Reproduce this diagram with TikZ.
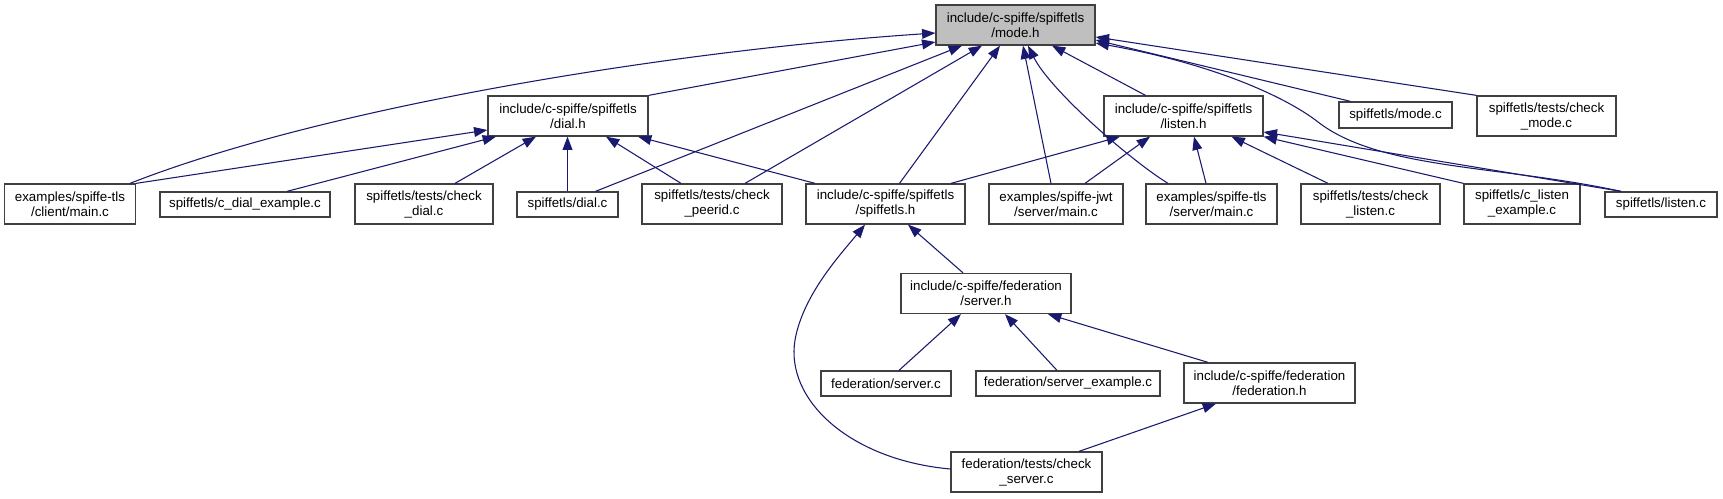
\documentclass[tikz,border=0pt]{standalone}
\usepackage{fontspec}
\setmainfont{Liberation Sans}
\usetikzlibrary{arrows.meta,calc}
\definecolor{edgeblue}{HTML}{191970}
\definecolor{boxborder}{HTML}{404040}
\definecolor{focusgray}{HTML}{BFBFBF}
\begin{document}
\begin{tikzpicture}[x=0.75pt,y=-0.75pt,
  box/.style={draw=boxborder, line width=0.95pt, fill=white, align=center, inner sep=0pt,
    font=\fontsize{10pt}{11.25pt}\selectfont, text=black},
  bx/.style 2 args={box, minimum width=#1*0.75pt, minimum height=#2*0.75pt},
  e/.style={draw=edgeblue, line width=0.8pt, -{Triangle[length=10pt,width=7.4pt,fill=edgeblue]}}]
\fill[white] (0,0) rectangle (1723,499);
\useasboundingbox (0,0) rectangle (1723,499);

% nodes
\node[bx={159}{40}, fill=focusgray] (modeh) at (1015.5,25) {include/c-spiffe/spiffetls\\/mode.h};
\node[bx={160}{40}] (dialh) at (568,116) {include/c-spiffe/spiffetls\\/dial.h};
\node[bx={159}{40}] (listenh) at (1183.5,116) {include/c-spiffe/spiffetls\\/listen.h};
\node[bx={113}{26}] (modec) at (1395.5,115) {spiffetls/mode.c};
\node[bx={139}{40}] (checkmode) at (1546.5,116) {spiffetls/tests/check\\\_mode.c};
\node[bx={131}{40}] (client) at (70,204) {examples/spiffe-tls\\/client/main.c};
\node[bx={170}{25}] (cdial) at (245,204.5) {spiffetls/c\_dial\_example.c};
\node[bx={138}{40}] (checkdial) at (424,204) {spiffetls/tests/check\\\_dial.c};
\node[bx={101}{25}] (dialc) at (567.5,204.5) {spiffetls/dial.c};
\node[bx={140}{40}] (peerid) at (712,204) {spiffetls/tests/check\\\_peerid.c};
\node[bx={159}{40}] (spiffetlsh) at (885.5,204) {include/c-spiffe/spiffetls\\/spiffetls.h};
\node[bx={134}{40}] (jwt) at (1056,204) {examples/spiffe-jwt\\/server/main.c};
\node[bx={131}{40}] (tlsserver) at (1211.5,204) {examples/spiffe-tls\\/server/main.c};
\node[bx={139}{40}] (checklisten) at (1370.5,204) {spiffetls/tests/check\\\_listen.c};
\node[bx={116}{40}] (clisten) at (1522,204) {spiffetls/c\_listen\\\_example.c};
\node[bx={112}{25}] (listenc) at (1661,204.5) {spiffetls/listen.c};
\node[bx={170}{40}] (serverh) at (986,293.5) {include/c-spiffe/federation\\/server.h};
\node[bx={130}{25}] (serverc) at (886,383.5) {federation/server.c};
\node[bx={184}{25}] (serverex) at (1068,383.5) {federation/server\_example.c};
\node[bx={171}{40}] (fedh) at (1269.5,383) {include/c-spiffe/federation\\/federation.h};
\node[bx={151}{40}] (checkserver) at (1026.5,472) {federation/tests/check\\\_server.c};

% edges into mode.h
\draw[e] ($(client.north)+(60,0)$) .. controls (330,105) and (680,50) .. ($(modeh.west)+(0,8)$);
\draw[e] (dialh.north east) -- ($(modeh.west)+(0,17)$);
\draw[e] ($(dialc.north)+(28,0)$) -- ($(modeh.south)+(-53.5,0)$);
\draw[e] ($(peerid.north)+(33,0)$) -- ($(modeh.south)+(-33.5,0)$);
\draw[e] ($(spiffetlsh.north)+(14,0)$) -- ($(modeh.south)+(-15.5,0)$);
\draw[e] ($(jwt.north)+(-5,0)$) -- ($(modeh.south)+(7.5,0)$);
\draw[e] ($(tlsserver.north)+(-43.5,0)$) .. controls (1130,160) and (1050,90) .. ($(modeh.south)+(12.5,0)$);
\draw[e] ($(listenh.north)+(-38,0)$) -- ($(modeh.south)+(36.5,0)$);
\draw[e] (checkmode.north west) -- ($(modeh.east)+(0,12)$);
\draw[e] ($(modec.north)+(-45,0)$) -- ($(modeh.east)+(0,15)$);
\draw[e] ($(listenc.north)+(-40,0)$) .. controls (1500,165) and (1380,170) .. (1318,122)
  .. controls (1290,100) and (1220,65) .. ($(modeh.east)+(0,18)$);

% edges into dial.h
\draw[e] (client.north east) -- ($(dialh.west)+(0,14)$);
\draw[e] ($(cdial.north)+(42,0)$) -- ($(dialh.south)+(-72,0)$);
\draw[e] ($(checkdial.north)+(31,0)$) -- ($(dialh.south)+(-32,0)$);
\draw[e] (dialc.north) -- (dialc.north |- dialh.south);
\draw[e] ($(peerid.north)+(-31,0)$) -- ($(dialh.south)+(38,0)$);
\draw[e] ($(spiffetlsh.north)+(-70.5,0)$) -- ($(dialh.south)+(70,0)$);

% edges into listen.h
\draw[e] ($(spiffetlsh.north)+(65.5,0)$) -- ($(listenh.south)+(-63.5,0)$);
\draw[e] ($(jwt.north)+(29,0)$) -- ($(listenh.south)+(-33.5,0)$);
\draw[e] ($(tlsserver.north)+(-5.5,0)$) -- ($(listenh.south)+(10.5,0)$);
\draw[e] ($(checklisten.north)+(-42.5,0)$) -- ($(listenh.south)+(48,0)$);
\draw[e] (clisten.north west) -- (listenh.south east);
\draw[e] ($(listenc.north)+(-40,0)$) -- ($(listenh.east)+(0,16)$);

% edges into spiffetls.h
\draw[e] ($(serverh.north)+(-23,0)$) -- ($(spiffetlsh.south)+(22.5,0)$);
\draw[e] ($(checkserver.west)+(0,-3)$) .. controls (850,460) and (785,400) .. (795,340)
  .. controls (803,295) and (840,255) .. ($(spiffetlsh.south)+(-20.5,0)$);

% edges into server.h
\draw[e] ($(serverc.north)+(13,0)$) -- ($(serverh.south)+(-25,0)$);
\draw[e] ($(serverex.north)+(-11,0)$) -- ($(serverh.south)+(19,0)$);
\draw[e] ($(fedh.north)+(-61.5,0)$) -- ($(serverh.south)+(62,0)$);

% edge into federation.h
\draw[e] ($(checkserver.north)+(52.5,0)$) -- ($(fedh.south)+(-53.5,0)$);
\end{tikzpicture}
\end{document}
